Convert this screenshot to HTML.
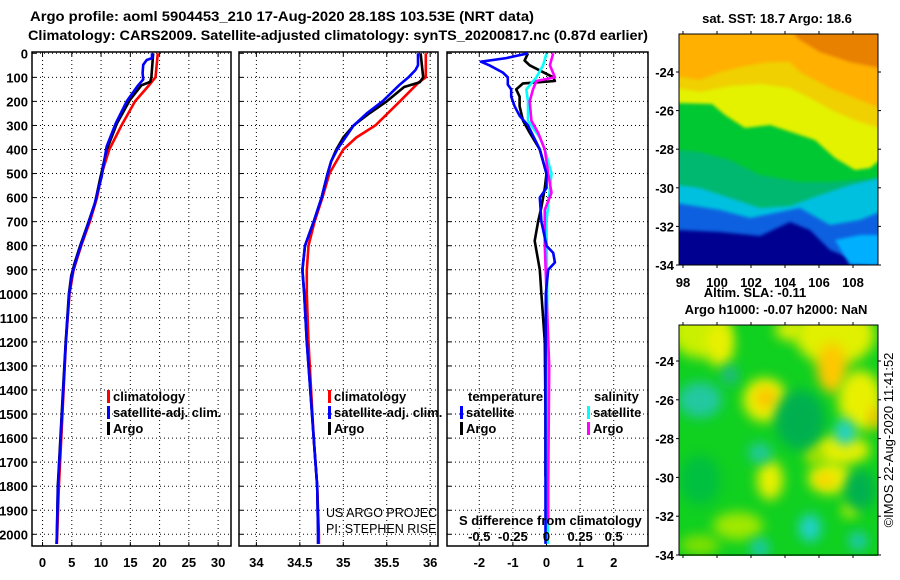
<!DOCTYPE html>
<html><head><meta charset="utf-8">
<style>
html,body{margin:0;padding:0;background:#fff;}
svg{display:block;font-family:"Liberation Sans",Arial,sans-serif;}
.b{font-weight:bold;}
</style></head>
<body>
<svg id="chart" width="900" height="580" viewBox="0 0 900 580">
  <defs>
    <filter id="blur6" x="-50%" y="-50%" width="200%" height="200%"><feGaussianBlur stdDeviation="6"/></filter>
    <filter id="blur2"><feGaussianBlur stdDeviation="1.5"/></filter>
    <clipPath id="clipP1"><rect x="32" y="52" width="199" height="494"/></clipPath>
    <clipPath id="clipP2"><rect x="239" y="52" width="199" height="494"/></clipPath>
    <clipPath id="clipP3"><rect x="447" y="52" width="201" height="494"/></clipPath>
    <clipPath id="clipM1"><rect x="679" y="34" width="199" height="231"/></clipPath>
    <clipPath id="clipM2"><rect x="679" y="325" width="199" height="231"/></clipPath>
  </defs>
  <text x="282" y="21" text-anchor="middle" class="b" font-size="14" textLength="504" lengthAdjust="spacingAndGlyphs">Argo profile: aoml 5904453_210 17-Aug-2020 28.18S 103.53E (NRT data)</text>
  <text x="28" y="40" class="b" font-size="14" textLength="620" lengthAdjust="spacingAndGlyphs">Climatology: CARS2009. Satellite-adjusted climatology: synTS_20200817.nc (0.87d earlier)</text>
  <g id="plots"></g>
  <g id="maps"></g>
</svg>
<script>
// ---------- DATA ----------
var depthTicks = [0,100,200,300,400,500,600,700,800,900,1000,1100,1200,1300,1400,1500,1600,1700,1800,1900,2000];
var tTicks = [0,5,10,15,20,25,30];
var sTicks = [34,34.5,35,35.5,36];
var sTickLabels = ["34","34.5","35","35.5","36"];
var dTicks = [-2,-1,0,1,2];
var dTickLabels = ["-2","-1","0","1","2"];
var sdTickLabels = ["-0.5","-0.25","0","0.25","0.5"];

var tClimDepth = [0,100,130,200,300,400,500,600,700,800,900,1000,1200,1400,1600,1800,2000,2040];
var tClim =      [19.7,19.3,18.3,15.8,13.5,11.4,10.1,9.3,8.1,6.6,5.3,4.6,4.0,3.6,3.2,2.8,2.5,2.45];
var tArgoDepth = [0,98,119,133,195,292,402,526,622,705,802,871,926,1000,1200,1400,1600,1800,2000,2040];
var tArgo =      [18.9,18.6,18.4,16.9,14.9,12.7,10.95,9.8,8.96,7.8,6.4,5.5,4.9,4.5,3.95,3.5,3.05,2.6,2.45,2.4];
var tSatDepth =  [0,20,28,48,82,109,137,199,292,388,512,622,705,802,871,926,1000,1200,1400,1600,1800,2000,2040];
var tSat =       [18.7,18.7,17.8,17.2,17.1,17.2,16.2,14.4,12.5,10.95,10.1,8.95,7.85,6.5,5.6,5.0,4.55,4.0,3.55,3.1,2.65,2.45,2.4];

var sClimDepth = [0,100,120,200,300,350,400,450,500,600,700,800,900,1000,1200,1400,1600,1800,2000,2040];
var sClim =      [35.95,35.95,35.87,35.65,35.37,35.15,35.0,34.92,34.84,34.76,34.67,34.6,34.58,34.58,34.6,34.63,34.66,34.7,34.72,34.72];
var sArgoDepth = [0,100,120,140,200,250,300,350,400,450,500,600,700,800,900,1000,1200,1400,1600,1800,2000,2040];
var sArgo =      [35.89,35.92,35.88,35.7,35.5,35.3,35.12,35.0,34.92,34.86,34.82,34.75,34.66,34.56,34.53,34.55,34.58,34.62,34.66,34.7,34.71,34.71];
var sSatDepth =  [0,50,70,100,130,200,250,300,400,450,500,600,700,800,900,1000,1200,1400,1600,1800,2000,2040];
var sSat =       [35.86,35.86,35.83,35.75,35.65,35.45,35.27,35.12,34.93,34.86,34.82,34.75,34.66,34.56,34.53,34.55,34.58,34.62,34.66,34.7,34.71,34.71];

// difference values in plotted (temperature-axis) units
var dTSatDepth = [0,20,35,50,80,100,130,150,180,220,260,300,400,500,560,600,700,800,830,870,900,1000,1400,1800,2040];
var dTSat =      [-0.55,-1.2,-1.95,-1.7,-1.3,-1.15,-1.15,-1.05,-1.05,-0.95,-0.8,-0.55,-0.2,0,0,-0.2,-0.15,0,0.2,0.25,0.05,-0.02,-0.03,-0.03,-0.03];
var dTArgoDepth = [0,30,50,100,115,125,150,180,220,280,330,400,500,560,640,700,780,900,1000,1200,1500,1760];
var dTArgo =      [-0.55,-0.65,-0.5,0.2,0.25,-0.7,-0.9,-0.8,-0.8,-0.7,-0.5,-0.2,0,-0.05,-0.15,-0.25,-0.35,-0.2,-0.15,-0.05,-0.03,-0.03];
var dSSatDepth = [0,50,100,150,200,280,350,400,500,560,700,1000,1400,1800,2040];
var dSSat =      [0,-0.1,-0.3,-0.6,-0.55,-0.55,-0.2,-0.05,0.15,0.1,0,0.02,0.03,0.04,0.04];
var dSArgoDepth = [0,50,100,115,150,200,280,330,400,500,580,650,800,1000,1300,1800,1950];
var dSArgo =      [0.2,0.1,0.25,-0.3,-0.4,-0.5,-0.45,-0.25,-0.05,0.05,0.15,-0.05,-0.05,0,0.08,0.05,0.05];

var lonTicks = [98,100,102,104,106,108];
var latTicks = [-24,-26,-28,-30,-32,-34];

// ---------- AXES ----------
var NS = "http://www.w3.org/2000/svg";
var plots = document.getElementById('plots');
var maps = document.getElementById('maps');
function el(tag, attrs, parent){ var e = document.createElementNS(NS, tag); for (var k in attrs) e.setAttribute(k, attrs[k]); (parent||plots).appendChild(e); return e; }
function yD(d){ return 53.3 + d*0.2405; }
var panels = [
  {x0:32, x1:231, vmin:-1.8, vmax:32.2, clip:'clipP1', name:'temperature-panel'},
  {x0:239, x1:438, vmin:33.8, vmax:36.09, clip:'clipP2', name:'salinity-panel'},
  {x0:447, x1:648, vmin:-2.96, vmax:3.02, clip:'clipP3', name:'difference-panel'}
];
function xP(p, v){ return p.x0 + (v - p.vmin)/(p.vmax - p.vmin)*(p.x1 - p.x0); }
var yTop = 52, yBot = 546;

panels.forEach(function(p, i){
  var g = el('g', {});
  
  
  var grid = el('g', {}, g);
  
  
  depthTicks.forEach(function(d){
    el('line', {x1:p.x0, x2:p.x1, y1:yD(d), y2:yD(d), stroke:'#000', 'stroke-width':1, 'stroke-dasharray':'1,3'}, grid);
    el('line', {x1:p.x0, x2:p.x0+4, y1:yD(d), y2:yD(d), stroke:'#000', 'stroke-width':1}, grid);
  });
  var ticks = i==0 ? tTicks : (i==1 ? sTicks : dTicks);
  var labels = i==0 ? tTicks.map(String) : (i==1 ? sTickLabels : dTickLabels);
  ticks.forEach(function(t, k){
    var x = xP(p, t);
    el('line', {x1:x, x2:x, y1:yTop, y2:yBot, stroke:'#000', 'stroke-width':1, 'stroke-dasharray':'1,3'}, grid);
    el('line', {x1:x, x2:x, y1:yTop, y2:yTop+4, stroke:'#000'}, grid);
    el('line', {x1:x, x2:x, y1:yBot-4, y2:yBot, stroke:'#000'}, grid);
    var tl = el('text', {x:x, y:567, 'text-anchor':'middle', 'font-size':13, 'class':'b'}, g);
    tl.textContent = labels[k];
    
    
  });
  var fr = el('rect', {x:p.x0, y:yTop, width:p.x1-p.x0, height:yBot-yTop, fill:'none', stroke:'#000', 'stroke-width':1.5}, g);
  
  
});
depthTicks.forEach(function(d){
  var t = el('text', {x:28, y:yD(d)+5, 'text-anchor':'end', 'font-size':13, 'class':'b'});
  t.textContent = String(d);
  
  
});

function series(p, depths, vals, color, name){
  var pts = depths.map(function(d, k){ return xP(p, vals[k]).toFixed(1)+','+yD(d).toFixed(1); }).join(' ');
  var l = el('polyline', {points:pts, fill:'none', stroke:color, 'stroke-width':2.6, 'stroke-linejoin':'round', 'clip-path':'url(#'+p.clip+')'});
  
  
}
var P1 = panels[0], P2 = panels[1], P3 = panels[2];
series(P1, tClimDepth, tClim, '#ff0000', 'temperature-climatology-line');
series(P1, tArgoDepth, tArgo, '#000000', 'temperature-argo-line');
series(P1, tSatDepth, tSat, '#0000ff', 'temperature-satellite-adj-line');
series(P2, sClimDepth, sClim, '#ff0000', 'salinity-climatology-line');
series(P2, sArgoDepth, sArgo, '#000000', 'salinity-argo-line');
series(P2, sSatDepth, sSat, '#0000ff', 'salinity-satellite-adj-line');
series(P3, dTArgoDepth, dTArgo, '#000000', 'temp-diff-argo-line');
series(P3, dSSatDepth, dSSat, '#00ffff', 'sal-diff-satellite-line');
series(P3, dSArgoDepth, dSArgo, '#ff00ff', 'sal-diff-argo-line');
series(P3, dTSatDepth, dTSat, '#0000ff', 'temp-diff-satellite-line');

// legends
function legendEntry(x, y, color, label, name){
  var g = el('g', {});
  
  
  if (color) el('rect', {x:x, y:y-11, width:3, height:13, fill:color}, g);
  var t = el('text', {x:x+(color?6:0), y:y, 'font-size':13, 'class':'b'}, g);
  t.textContent = label;
}
[[107,P1],[328,P2]].forEach(function(a){
  legendEntry(a[0], 401, '#ff0000', 'climatology', 'legend-climatology');
  legendEntry(a[0], 417, '#0000ff', 'satellite-adj. clim.', 'legend-satellite-adj');
  legendEntry(a[0], 433, '#000000', 'Argo', 'legend-argo');
});
legendEntry(468, 401, null, 'temperature', 'legend-temperature-header');
legendEntry(460, 417, '#0000ff', 'satellite', 'legend-temp-satellite');
legendEntry(460, 433, '#000000', 'Argo', 'legend-temp-argo');
legendEntry(594, 401, null, 'salinity', 'legend-salinity-header');
legendEntry(587, 417, '#00ffff', 'satellite', 'legend-sal-satellite');
legendEntry(587, 433, '#ff00ff', 'Argo', 'legend-sal-argo');

var cr = el('g', {'clip-path':'url(#clipP2)'});


var c1 = el('text', {x:326, y:517, 'font-size':12.5}, cr); c1.textContent = 'US ARGO PROJECT';
var c2 = el('text', {x:326, y:533, 'font-size':12.5}, cr); c2.textContent = 'PI: STEPHEN RISER';

var sd = el('text', {x:459, y:525, 'font-size':13, 'class':'b'});
sd.textContent = 'S difference from climatology';


dTicks.forEach(function(t, k){
  var s = el('text', {x:xP(P3, t), y:541, 'text-anchor':'middle', 'font-size':13, 'class':'b'});
  s.textContent = sdTickLabels[k];
  
  
});

// ---------- MAPS ----------
function mapAxes(x0, y0, lat24y, lat34y, withLon, name){
  var g = el('g', {}, maps);
  
  
  el('rect', {x:x0, y:y0, width:199, height:lat34y-y0, fill:'none', stroke:'#000', 'stroke-width':1}, g);
  latTicks.forEach(function(lat){
    var y = lat24y + (-24 - lat)/10*(lat34y - lat24y);
    el('line', {x1:x0-3, x2:x0, y1:y, y2:y, stroke:'#000'}, g);
    el('line', {x1:x0+199, x2:x0+202, y1:y, y2:y, stroke:'#000'}, g);
    var t = el('text', {x:x0-5, y:y+5, 'text-anchor':'end', 'font-size':13, 'class':'b'}, g);
    t.textContent = String(lat);
  });
  lonTicks.forEach(function(lon){
    var x = 683 + (lon-98)*17;
    el('line', {x1:x, x2:x, y1:y0-3, y2:y0, stroke:'#000'}, g);
    el('line', {x1:x, x2:x, y1:lat34y, y2:lat34y+3, stroke:'#000'}, g);
    if (withLon){ var t = el('text', {x:x, y:287, 'text-anchor':'middle', 'font-size':13, 'class':'b'}, g); t.textContent = String(lon); }
  });
}
// SST map: each layer covers from its top boundary down to the map bottom
var m1 = el('g', {'clip-path':'url(#clipM1)'}, maps);


el('rect', {x:679, y:34, width:199, height:231, fill:'#ffb000'}, m1);
var B = ' L880,270 L676,270 Z';
var bands = [
  ['#e88000','M790,30 L800,40 L820,52 L850,62 L880,68 L880,30 Z'],
  ['#f0d000','M676,76 L700,80 L720,72 L745,66 L770,62 L790,62 L800,72 L830,88 L860,100 L880,108'+B],
  ['#e4f200','M676,88 L700,92 L730,86 L760,84 L790,88 L810,98 L835,112 L860,122 L880,128'+B],
  ['#00c830','M676,103 L712,104 L725,115 L745,128 L770,125 L800,135 L815,140 L835,158 L855,170 L870,168 L880,160'+B],
  ['#00b870','M676,150 L700,152 L730,160 L760,175 L800,182 L830,182 L880,178'+B],
  ['#00c0e0','M676,185 L700,188 L730,198 L760,208 L790,206 L820,195 L850,185 L880,178'+B],
  ['#1060e0','M676,203 L720,210 L750,218 L780,212 L800,208 L830,225 L860,220 L880,212'+B],
  ['#000090','M676,230 L720,232 L760,236 L790,222 L810,230 L830,250 L860,262 L880,268'+B],
  ['#00b0ff','M835,240 L860,235 L880,235 L880,265 L850,265 Z']
];
bands.forEach(function(b){ el('path', {d:b[1], fill:b[0], filter:'url(#blur2)'}, m1); });
mapAxes(679, 34, 72, 265, true, 'sst-map');
var st = el('text', {x:777, y:23, 'text-anchor':'middle', 'font-size':13, 'class':'b'}, maps);
st.textContent = 'sat. SST: 18.7 Argo: 18.6';


var al = el('text', {x:755, y:297, 'text-anchor':'middle', 'font-size':13, 'class':'b'}, maps);
al.textContent = 'Altim. SLA: -0.11';


var ah = el('text', {x:776, y:314, 'text-anchor':'middle', 'font-size':13, 'class':'b'}, maps);
ah.textContent = 'Argo h1000: -0.07 h2000: NaN';



// SLA map
var m2 = el('g', {'clip-path':'url(#clipM2)'}, maps);


el('rect', {x:679, y:325, width:199, height:231, fill:'#10d020'}, m2);
var blobs = [
  [700,330,30,28,'#c8f000'],[720,345,14,22,'#e8f000'],[790,330,15,10,'#e0f000'],[835,335,40,30,'#e0f000'],[832,368,15,25,'#ffc800'],
  [765,400,22,22,'#e8f000'],[766,398,10,10,'#ffc000'],[860,400,22,30,'#e8f000'],[875,418,6,12,'#ffc000'],[840,450,30,15,'#e8f000'],
  [830,478,22,16,'#e8f000'],[825,480,8,6,'#ffc800'],[770,480,13,20,'#e8f000'],[850,510,8,8,'#c0f000'],
  [738,526,25,14,'#a0e800'],[815,455,10,10,'#a0e000'],
  [700,400,22,18,'#20c8a0'],[730,375,8,10,'#20b890'],[760,453,12,10,'#20c8a0'],[845,432,10,13,'#20d0d0'],[810,528,11,14,'#20d0d0'],[760,548,9,9,'#20c8c0'],[858,541,9,9,'#20c8c0'],
  [800,420,25,30,'#00b050'],[700,480,20,25,'#00c040'],[860,490,15,20,'#00b050'],[700,545,20,10,'#80e000']
];
blobs.forEach(function(b){ el('ellipse', {cx:b[0], cy:b[1], rx:b[2], ry:b[3], fill:b[4], filter:'url(#blur6)'}, m2); });
mapAxes(679, 325, 361, 555, false, 'sla-map');

var im = el('text', {x:893, y:440, 'text-anchor':'middle', 'font-size':13, transform:'rotate(-90 893 440)'}, maps);
im.textContent = '©IMOS 22-Aug-2020 11:41:52';


</script>
</body></html>
